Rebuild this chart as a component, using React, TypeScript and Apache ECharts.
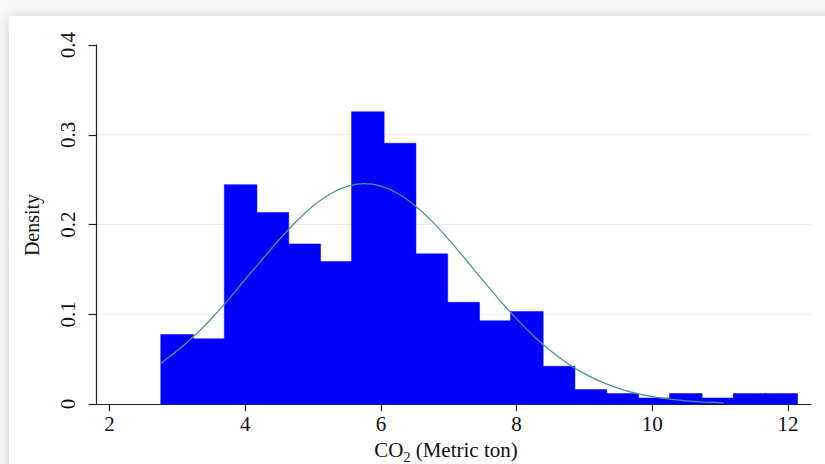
import React, { useEffect, useRef } from "react";
import * as echarts from "echarts";

// Histogram bin edges (CO2, metric ton) and bar densities
const binEdges = [2.755, 3.224, 3.692, 4.161, 4.63, 5.099, 5.567, 6.036, 6.505, 6.973, 7.442, 7.911, 8.38, 8.848, 9.317, 9.786, 10.254, 10.723, 11.192, 11.661, 12.129];
const densities = [0.0775, 0.0726, 0.2444, 0.2134, 0.1784, 0.1587, 0.3256, 0.2905, 0.1673, 0.1133, 0.0927, 0.1032, 0.0421, 0.0161, 0.0116, 0.0067, 0.0116, 0.0067, 0.0116, 0.0116];

// Normal density overlay
const curveX = [2.755, 3.0, 3.25, 3.5, 3.75, 4.0, 4.25, 4.5, 4.75, 5.0, 5.25, 5.5, 5.75, 6.0, 6.25, 6.5, 6.75, 7.0, 7.25, 7.5, 7.75, 8.0, 8.25, 8.5, 8.75, 9.0, 9.25, 9.5, 9.75, 10.0, 10.25, 10.5, 10.75, 11.05];
const curveY = [0.0451, 0.0595, 0.076, 0.095, 0.116, 0.139, 0.161, 0.183, 0.203, 0.2205, 0.234, 0.2425, 0.2455, 0.2428, 0.2345, 0.2212, 0.2038, 0.1832, 0.161, 0.138, 0.1158, 0.0948, 0.0758, 0.0592, 0.0452, 0.0338, 0.0246, 0.0175, 0.0121, 0.0082, 0.0054, 0.0035, 0.0022, 0.0012];

const xTicks = [2, 4, 6, 8, 10, 12];
const gridLevels = [0.1, 0.2, 0.3];

const X_MIN = 1.811;
const X_MAX = 12.339;
const FONT = '"Liberation Serif", "Times New Roman", serif';

export default function App() {
  const ref = useRef<HTMLDivElement>(null);

  useEffect(() => {
    if (!ref.current) return;
    const chart = echarts.init(ref.current, null, { renderer: "svg" });
    const barData = densities.map((d, i) => [binEdges[i], binEdges[i + 1], d]);
    const curveData = curveX.map((x, i) => [x, curveY[i]]);

    chart.setOption({
      animation: false,
      backgroundColor: "transparent",
      grid: { left: 96.7, top: 45, right: 14, bottom: 60, containLabel: false, outerBoundsMode: "none" },
      xAxis: {
        type: "value",
        min: X_MIN,
        max: X_MAX,
        axisLine: { show: true, onZero: false, lineStyle: { color: "#222", width: 1.2 } },
        axisTick: { show: true, length: 7, customValues: xTicks, lineStyle: { color: "#222", width: 1.2 } },
        axisLabel: { customValues: xTicks, margin: 9, fontFamily: FONT, fontSize: 21, color: "#111" },
        splitLine: { show: false },
      },
      yAxis: {
        type: "value",
        min: 0,
        max: 0.4,
        interval: 0.1,
        axisLine: { show: true, lineStyle: { color: "#222", width: 1.2 } },
        axisTick: { show: true, length: 8, lineStyle: { color: "#222", width: 1.2 } },
        axisLabel: {
          rotate: 90,
          margin: 18,
          fontFamily: FONT,
          fontSize: 21,
          color: "#111",
          formatter: (v: number) => (v === 0 ? "0" : v.toFixed(1)),
        },
        splitLine: { show: false },
      },
      series: [
        {
          type: "custom",
          z: 0,
          silent: true,
          data: gridLevels.map((v) => [v]),
          encode: { y: 0 },
          renderItem: (params: any, api: any) => {
            const a = api.coord([X_MIN, api.value(0)]);
            const b = api.coord([X_MAX, api.value(0)]);
            return {
              type: "line",
              shape: { x1: a[0], y1: a[1], x2: b[0], y2: b[1] },
              style: { stroke: "#e6eef2", lineWidth: 1.2 },
            };
          },
        },
        {
          type: "custom",
          z: 2,
          data: barData,
          encode: { x: [0, 1], y: 2 },
          renderItem: (params: any, api: any) => {
            const p0 = api.coord([api.value(0), api.value(2)]);
            const p1 = api.coord([api.value(1), 0]);
            return {
              type: "rect",
              shape: { x: p0[0], y: p0[1], width: p1[0] - p0[0] + 0.8, height: p1[1] - p0[1] },
              style: { fill: "#0000ff", stroke: "#0000ff", lineWidth: 0.5 },
            };
          },
        },
        {
          type: "line",
          z: 3,
          data: curveData,
          smooth: 0.25,
          symbol: "none",
          lineStyle: { color: "#4f958d", width: 1.3 },
        },
      ],
      graphic: [
        {
          type: "text",
          x: 32,
          y: 225,
          rotation: Math.PI / 2,
          style: {
            text: "Density",
            font: `20px ${FONT}`,
            fill: "#111",
            textAlign: "center",
            textVerticalAlign: "middle",
          },
        },
        {
          type: "text",
          x: 446,
          y: 466,
          style: {
            text: "{a|CO}{s|2}{a| (Metric ton)}",
            textAlign: "center",
            textVerticalAlign: "bottom",
            fill: "#111",
            rich: {
              a: { fontFamily: FONT, fontSize: 21, color: "#111", padding: [0, 0, 6, 0], verticalAlign: "bottom" },
              s: { fontFamily: FONT, fontSize: 14, color: "#111", padding: [0, 0, 2, 0], verticalAlign: "bottom" },
            },
          },
        },
      ],
    });
    return () => chart.dispose();
  }, []);

  return (
    <div style={{ position: "fixed", left: 0, top: 0, width: 825, height: 464, background: "#f6f6f6", overflow: "hidden" }}>
      <div
        style={{
          position: "absolute",
          left: 9,
          top: 16,
          width: 830,
          height: 460,
          background: "#ffffff",
          boxShadow: "0 0 10px rgba(0,0,0,0.12)",
        }}
      />
      <div ref={ref} style={{ position: "absolute", left: 0, top: 0, width: 825, height: 464 }} />
    </div>
  );
}
